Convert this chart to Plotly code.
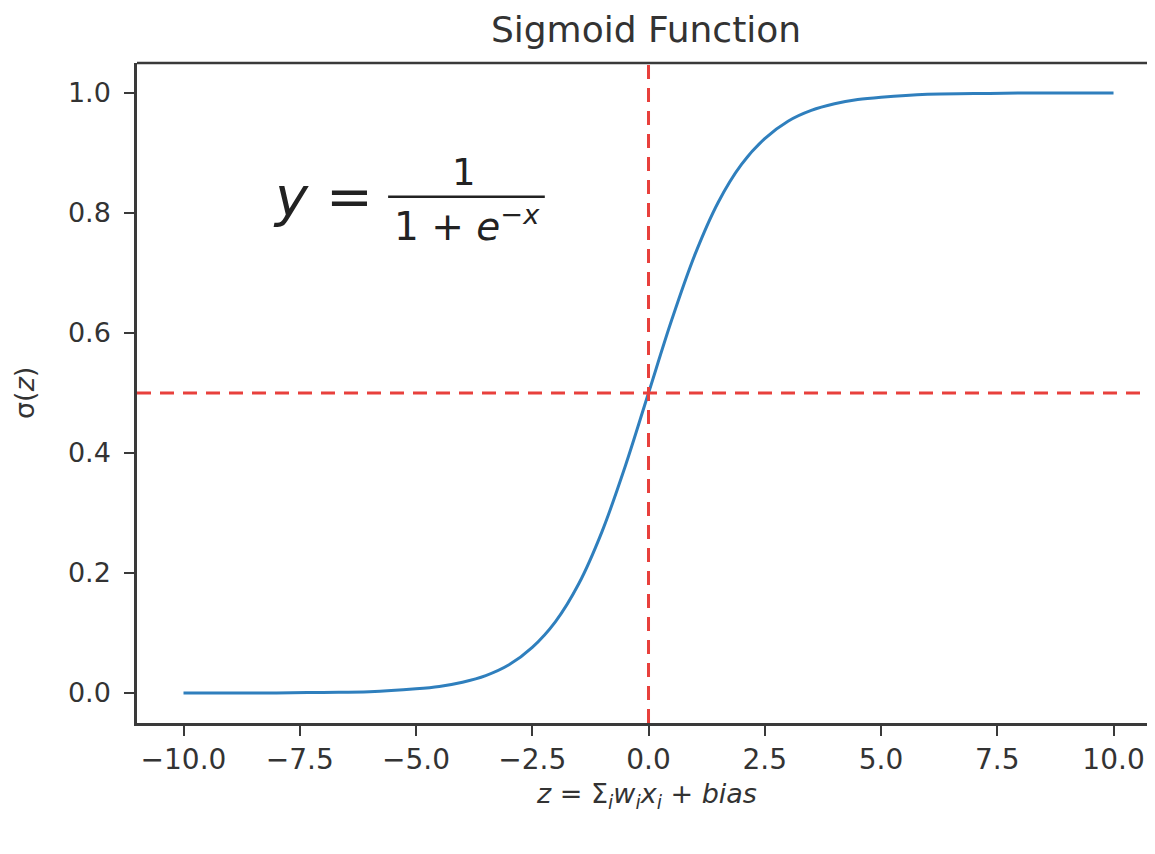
import plotly.graph_objects as go

# Sigmoid curve
z_vals = [-10, -9, -8, -7, -6, -5, -4.5, -4, -3.5, -3, -2.5, -2, -1.5, -1, -0.5,
          0, 0.5, 1, 1.5, 2, 2.5, 3, 3.5, 4, 4.5, 5, 6, 7, 8, 9, 10]
sig_vals = [0.000, 0.000, 0.000, 0.001, 0.002, 0.007, 0.011, 0.018, 0.029, 0.047,
            0.076, 0.119, 0.182, 0.269, 0.378, 0.500, 0.622, 0.731, 0.818, 0.881,
            0.924, 0.953, 0.971, 0.982, 0.989, 0.993, 0.998, 0.999, 1.000, 1.000, 1.000]

x_ticks = [-10.0, -7.5, -5.0, -2.5, 0.0, 2.5, 5.0, 7.5, 10.0]
x_tick_text = ["\u221210.0", "\u22127.5", "\u22125.0", "\u22122.5", "0.0", "2.5", "5.0", "7.5", "10.0"]
y_ticks = [0.0, 0.2, 0.4, 0.6, 0.8, 1.0]
y_tick_text = ["0.0", "0.2", "0.4", "0.6", "0.8", "1.0"]

vline_x = 0.0
hline_y = 0.5

FONT = "DejaVu Sans"
AX = "#3a3a3a"
TXT = "#333333"
RED = "#e8403c"

fig = go.Figure()
fig.add_trace(go.Scatter(x=z_vals, y=sig_vals, mode="lines", line_shape="spline",
                         line=dict(color="#2f7fbd", width=3), showlegend=False,
                         hoverinfo="skip"))

fig.add_shape(type="line", xref="x", yref="paper", x0=vline_x, x1=vline_x, y0=0, y1=1,
              line=dict(color=RED, width=3, dash="14px,9px"))
fig.add_shape(type="line", xref="paper", yref="y", x0=0, x1=1, y0=hline_y, y1=hline_y,
              line=dict(color=RED, width=3, dash="14px,9px"))
# top border of the frame
fig.add_shape(type="line", xref="paper", yref="paper", x0=0, x1=1, y0=1, y1=1,
              line=dict(color=AX, width=2.5))

fig.update_layout(
    width=1147, height=836,
    margin=dict(l=129, r=0, t=55, b=121),
    paper_bgcolor="white", plot_bgcolor="white",
    font=dict(family=FONT, color=TXT, size=27),
    title=dict(text="Sigmoid Function", xref="paper", x=0.5, xanchor="center",
               yref="container", y=0.975, yanchor="middle",
               font=dict(family=FONT, size=36, color=TXT)),
    xaxis=dict(range=[-11, 10.892], tickvals=x_ticks, ticktext=x_tick_text,
               showgrid=False, zeroline=False, showline=True, linecolor=AX, linewidth=2.5,
               ticks="outside", ticklen=10, tickwidth=2, tickcolor=AX,
               tickfont=dict(family=FONT, size=28, color=TXT)),
    yaxis=dict(range=[-0.05, 1.05], tickvals=y_ticks, ticktext=y_tick_text,
               showgrid=False, zeroline=False, showline=True, linecolor=AX, linewidth=2.5,
               ticks="outside", ticklen=10, tickwidth=2, tickcolor=AX, ticklabelstandoff=8,
               tickfont=dict(family=FONT, size=27, color=TXT)),
)

annotations = [
    # y-axis label
    dict(text="\u03c3(<i>z</i>)", xref="paper", yref="paper", x=0, y=0.5, xshift=-113,
         xanchor="center", yanchor="middle",
         textangle=-90, showarrow=False, font=dict(family=FONT, size=27, color=TXT)),
    # x-axis label
    dict(text="<i>z</i> = \u03a3<sub><i>i</i></sub><i>w<sub>i</sub>x<sub>i</sub></i> + <i>bias</i>",
         xref="paper", yref="paper", x=0.5, y=0, yshift=-72, xanchor="center", yanchor="middle",
         showarrow=False, font=dict(family=FONT, size=27, color=TXT)),
    # formula
    dict(text="<i>y</i> =", xref="x", yref="y", x=-5.88, y=0.827, xanchor="right",
         yanchor="middle", showarrow=False, font=dict(family=FONT, size=56, color="#222222")),
    dict(text="1", xref="x", yref="y", x=-3.97, y=0.868, xanchor="center", yanchor="middle",
         showarrow=False, font=dict(family=FONT, size=37, color="#222222")),
    dict(text="1 + <i>e</i><sup>\u2212<i>x</i></sup>", xref="x", yref="y", x=-3.9, y=0.782,
         xanchor="center", yanchor="middle",
         showarrow=False, font=dict(family=FONT, size=39, color="#222222")),
]
fig.update_layout(annotations=annotations)
# fraction bar of the formula
fig.add_shape(type="line", xref="x", yref="y", x0=-5.6, x1=-2.23, y0=0.827, y1=0.827,
              line=dict(color="#222222", width=2.5))

fig.write_html("out.html")
